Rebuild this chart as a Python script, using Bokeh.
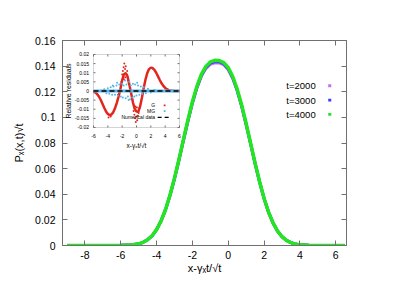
import math
from bokeh.plotting import figure
from bokeh.models import (Range1d, LinearAxis, FixedTicker, Label, BoxAnnotation,
                          ColumnDataSource, CustomLabelingPolicy)
from bokeh.core.properties import value
from bokeh.embed import file_html
from bokeh.resources import INLINE

FONT = "Liberation Sans"

# ---------------- main panel data ----------------
x_main = [-9.0, -8.5, -8.0, -7.5, -7.0, -6.5, -6.0, -5.5, -5.0, -4.75, -4.5, -4.25, -4.0,
          -3.75, -3.5, -3.25, -3.0, -2.75, -2.5, -2.25, -2.0, -1.75, -1.5, -1.25, -1.0,
          -0.75, -0.5, -0.25, 0.0, 0.25, 0.5, 0.75, 1.0, 1.25, 1.5, 1.75, 2.0, 2.25, 2.5,
          2.75, 3.0, 3.25, 3.5, 3.75, 4.0, 4.5, 5.0, 5.5, 6.0, 6.5]
p_t4000 = [0, 0, 0, 0, 0, 0, 0.0001, 0.0003, 0.0013, 0.0025, 0.0045, 0.0076, 0.0124,
           0.0192, 0.0281, 0.0394, 0.0526, 0.0673, 0.0829, 0.0981, 0.1122, 0.1242, 0.1335, 0.1398, 0.1433,
           0.1445, 0.1444, 0.1428, 0.1388, 0.1319, 0.1220, 0.1096, 0.0952, 0.0798, 0.0643, 0.0498, 0.0369, 0.0261, 0.0177,
           0.0113, 0.0069, 0.0040, 0.0022, 0.0011, 0.0005, 0.0001, 0, 0, 0, 0]
p_t3000 = [0, 0, 0, 0, 0, 0, 0.0001, 0.0003, 0.0013, 0.0025, 0.0045, 0.0076, 0.0124,
           0.0191, 0.0280, 0.0392, 0.0523, 0.0669, 0.0824, 0.0975, 0.1116, 0.1235, 0.1328, 0.1390, 0.1424,
           0.1436, 0.1435, 0.1419, 0.1380, 0.1311, 0.1213, 0.1090, 0.0947, 0.0794, 0.0640, 0.0496, 0.0368, 0.0260, 0.0176,
           0.0113, 0.0069, 0.0040, 0.0022, 0.0011, 0.0005, 0.0001, 0, 0, 0, 0]
p_t2000 = [0, 0, 0, 0, 0, 0, 0.0001, 0.0003, 0.0013, 0.0025, 0.0045, 0.0076, 0.0123,
           0.0190, 0.0278, 0.0390, 0.0520, 0.0665, 0.0819, 0.0969, 0.1110, 0.1228, 0.1320, 0.1381, 0.1414,
           0.1426, 0.1425, 0.1410, 0.1371, 0.1303, 0.1206, 0.1084, 0.0942, 0.0790, 0.0637, 0.0494, 0.0366, 0.0259, 0.0175,
           0.0112, 0.0068, 0.0040, 0.0022, 0.0011, 0.0005, 0.0001, 0, 0, 0, 0]
series_names = ["t=2000", "t=3000", "t=4000"]
series_colors = ["#c86cf4", "#3a3cff", "#22e622"]

x_ticks = [-8, -6, -4, -2, 0, 2, 4, 6]
x_tick_labels = ["-8", "-6", "-4", "-2", "0", "2", "4", "6"]
y_ticks = [0, 0.02, 0.04, 0.06, 0.08, 0.1, 0.12, 0.14, 0.16]
y_tick_labels = ["0", "0.02", "0.04", "0.06", "0.08", "0.1", "0.12", "0.14", "0.16"]

# ---------------- inset data ----------------
res_x = [-6.0, -5.75, -5.5, -5.25, -5.0, -4.75, -4.5, -4.25, -4.0, -3.75, -3.5, -3.25, -3.0,
         -2.75, -2.5, -2.25, -2.0, -1.75, -1.5, -1.25, -1.0, -0.75, -0.5, -0.25, 0.0,
         0.25, 0.5, 0.75, 1.0, 1.25, 1.5, 1.75, 2.0, 2.25, 2.5, 2.75, 3.0, 3.25, 3.5,
         3.75, 4.0, 4.25, 4.5, 4.75, 5.0, 5.25, 5.5, 5.75, 6.0]
res_G = [-0.0003, -0.0008, -0.0016, -0.0030, -0.0048, -0.0070, -0.0092, -0.0112, -0.0126, -0.0132, -0.0129, -0.0117, -0.0095,
         -0.0065, -0.0030, 0.0010, 0.0060, 0.0092, 0.0098, 0.0080, 0.0035, -0.0012, -0.0062, -0.0098, -0.0113,
         -0.0114, -0.0085, -0.0038, 0.0015, 0.0062, 0.0098, 0.0120, 0.0128, 0.0126, 0.0116, 0.0100, 0.0080, 0.0060, 0.0042,
         0.0028, 0.0017, 0.0010, 0.0005, 0.0002, 0.0001, 0, 0, 0, 0]
res_G_noise_x = [-2.1, -2.0, -1.9, -1.8, -1.75, -1.7, -1.6, -1.55, -1.5, -1.4, -1.3, -1.2,
                 -0.4, -0.3, -0.2, -0.15, -0.1, 0.0, 0.05, 0.1, 0.2, 0.3, 0.4, -3.9, -3.6, -2.6]
res_G_noise_y = [0.005, 0.009, 0.011, 0.013, 0.0065, 0.015, 0.012, 0.0075, 0.0135, 0.009, 0.011, 0.006,
                 -0.011, -0.013, -0.015, -0.0085, -0.017, -0.014, -0.009, -0.016, -0.0135, -0.012, -0.0095, -0.0145, -0.014, -0.002]
res_MG_x = [-4.5, -4.2, -4.0, -3.8, -3.6, -3.4, -3.3, -3.2, -3.0, -2.8, -2.7, -2.6, -2.4, -2.2, -2.0, -1.9,
            -1.8, -1.6, -1.5, -1.4, -1.2, -1.1, -1.0, -0.9, -0.8, -0.6, -0.5, -0.3, -0.2, 0.0, 0.1, 0.2,
            0.4, 0.6, 0.8, 1.0, 1.3, 1.6, 2.0, 2.5]
res_MG_y = [0.001, -0.0012, 0.0015, -0.0015, 0.002, -0.002, 0.003, 0.0025, -0.002, 0.003, 0.0045, -0.0025, 0.0035, -0.003, 0.004, -0.0035,
            0.003, 0.0058, -0.004, 0.0035, -0.003, -0.005, 0.005, -0.0045, 0.003, -0.0035, 0.004, -0.003, 0.0035, -0.0025, 0.0045, 0.003,
            -0.002, 0.0025, -0.0015, 0.002, -0.0012, 0.0012, -0.0008, 0.0006]
res_MG_band = [0.0] * len(res_x)
res_num = [0.0] * len(res_x)

ix_ticks = [-6, -4, -2, 0, 2, 4, 6]
ix_tick_labels = ["-6", "-4", "-2", "0", "2", "4", "6"]
iy_ticks = [-0.02, -0.015, -0.01, -0.005, 0, 0.005, 0.01, 0.015, 0.02]
iy_tick_labels = ["-0.02", "-0.015", "-0.01", "-0.005", "0", "0.005", "0.01", "0.015", "0.02"]

AX = "#707070"


def style_axis(ax, size, standoff, tick_in, labels=True):
    ax.major_tick_in = tick_in
    ax.major_tick_out = 0
    ax.minor_tick_in = 0
    ax.minor_tick_out = 0
    ax.axis_line_color = AX
    ax.major_tick_line_color = AX
    ax.major_label_text_font = FONT
    ax.major_label_text_color = "black"
    ax.major_label_text_font_size = size if labels else "1px"
    ax.major_label_standoff = standoff if labels else 0
    if not labels:
        ax.major_label_policy = CustomLabelingPolicy(code="return []")


# ---------------- main figure ----------------
p = figure(width=399, height=277, x_range=Range1d(-9.25, 6.6), y_range=Range1d(0, 0.16),
           output_backend="svg", toolbar_location=None,
           min_border_left=62, min_border_right=53, min_border_top=40, min_border_bottom=32)
p.xgrid.visible = False
p.ygrid.visible = False
p.outline_line_color = AX

xa = p.xaxis[0]
ya = p.yaxis[0]
xa.ticker = FixedTicker(ticks=x_ticks)
xa.major_label_overrides = dict(zip(x_ticks, x_tick_labels))
ya.ticker = FixedTicker(ticks=y_ticks)
ya.major_label_overrides = dict(zip(y_ticks, y_tick_labels))
style_axis(xa, "10.5px", 5, 5)
style_axis(ya, "10.5px", 7, 5)
xa.axis_label = "x-γₓt/√t"
ya.axis_label = "Pₓ(x,t)√t"
for a in (xa, ya):
    a.axis_label_text_font = FONT
    a.axis_label_text_font_style = "normal"
    a.axis_label_text_font_size = "11px"
    a.axis_label_text_color = "black"
xa.axis_label_standoff = 0
ya.axis_label_standoff = 7

top_ax = LinearAxis(ticker=FixedTicker(ticks=x_ticks))
style_axis(top_ax, "10px", 0, 5, labels=False)
p.add_layout(top_ax, "above")
right_ax = LinearAxis(ticker=FixedTicker(ticks=y_ticks))
style_axis(right_ax, "10px", 0, 5, labels=False)
p.add_layout(right_ax, "right")

for vals, col, w in ((p_t2000, series_colors[0], 3), (p_t3000, series_colors[1], 3), (p_t4000, series_colors[2], 3.5)):
    src = ColumnDataSource(dict(x=x_main, y=vals))
    p.line("x", "y", source=src, line_color=col, line_width=w)

leg_y = [0.1247, 0.1135, 0.1023]
for name, col, yy in zip(series_names, series_colors, leg_y):
    p.add_layout(Label(x=4.88, y=yy, text=name, text_align="right", text_baseline="middle",
                       text_font=FONT, text_font_size="9.5px", text_color="black"))
    p.add_layout(BoxAnnotation(left=5.58, right=5.75, bottom=yy - 0.0011, top=yy + 0.0011,
                               fill_color=col, fill_alpha=1, line_color=None))

# ---------------- inset, drawn on its own ranges inside the main frame ----------------
# ranges chosen so that the inset box (-6..6, -0.02..0.02) sits in the upper-left of the frame
p.extra_x_ranges = {"ix": Range1d(-10.3256, 29.302)}
p.extra_y_ranges = {"iy": Range1d(-0.084658, 0.027671)}
IX, IY = "ix", "iy"
TX = 0.279    # 2 px tick in inset x units
TY = 0.0011   # 2 px tick in inset y units

p.add_layout(BoxAnnotation(left=-6, right=6, bottom=-0.02, top=0.02, x_range_name=IX, y_range_name=IY,
                           fill_color="white", fill_alpha=1, line_color=AX, line_width=1, level="underlay"))
n_x = len(ix_ticks)
n_y = len(iy_ticks)
p.segment(x0=ix_ticks + ix_ticks, x1=ix_ticks + ix_ticks,
          y0=[-0.02] * n_x + [0.02] * n_x, y1=[-0.02 + TY] * n_x + [0.02 - TY] * n_x,
          line_color=AX, line_width=1, x_range_name=IX, y_range_name=IY)
p.segment(x0=[-6] * n_y + [6] * n_y, x1=[-6 + TX] * n_y + [6 - TX] * n_y,
          y0=iy_ticks + iy_ticks, y1=iy_ticks + iy_ticks,
          line_color=AX, line_width=1, x_range_name=IX, y_range_name=IY)
p.text(x=ix_ticks, y=[-0.0244] * n_x, text=ix_tick_labels, text_align="center", text_baseline="middle",
       text_font=value(FONT), text_font_size="5px", text_color="black", x_range_name=IX, y_range_name=IY)
p.text(x=[-6.63] * n_y, y=iy_ticks, text=iy_tick_labels, text_align="right", text_baseline="middle",
       text_font=value(FONT), text_font_size="5px", text_color="black", x_range_name=IX, y_range_name=IY)
p.add_layout(Label(x=0, y=-0.0296, text="x-γₓt/√t", text_align="center", text_baseline="middle",
                   text_font=FONT, text_font_size="6.5px", text_color="black", x_range_name=IX, y_range_name=IY))
p.add_layout(Label(x=-9.45, y=0.0, text="Relative residuals", angle=math.pi / 2, text_align="center",
                   text_baseline="middle", text_font=FONT, text_font_size="7px", text_color="black",
                   x_range_name=IX, y_range_name=IY))

RED = "#e3261d"
BLUE = "#5ab4e8"
p.line(res_x, res_G, line_color=RED, line_width=2.5, x_range_name=IX, y_range_name=IY)
p.scatter(res_G_noise_x, res_G_noise_y, size=2, color=RED, line_color=None, x_range_name=IX, y_range_name=IY)
p.line(res_x, res_MG_band, line_color=BLUE, line_width=3, x_range_name=IX, y_range_name=IY)
p.scatter(res_MG_x, res_MG_y, size=2, color=BLUE, line_color=None, x_range_name=IX, y_range_name=IY)
p.line(res_x, res_num, line_color="black", line_width=1.3, line_dash="5 3", x_range_name=IX, y_range_name=IY)

ileg = [("G", -0.0079), ("MG", -0.0110), ("Numerical data", -0.0145)]
for name, yy in ileg:
    p.add_layout(Label(x=2.6, y=yy, text=name, text_align="right", text_baseline="middle",
                       text_font=FONT, text_font_size="5px", text_color="black",
                       x_range_name=IX, y_range_name=IY))
p.add_layout(BoxAnnotation(left=3.8, right=4.05, bottom=-0.0079 - 0.0005, top=-0.0079 + 0.0005,
                           fill_color=RED, fill_alpha=1, line_color=None, x_range_name=IX, y_range_name=IY))
p.add_layout(BoxAnnotation(left=3.8, right=4.05, bottom=-0.0110 - 0.0005, top=-0.0110 + 0.0005,
                           fill_color=BLUE, fill_alpha=1, line_color=None, x_range_name=IX, y_range_name=IY))
p.segment(x0=[2.95], x1=[4.6], y0=[-0.0145], y1=[-0.0145], line_color="black", line_width=1.2,
          line_dash="4 3", x_range_name=IX, y_range_name=IY)

open("out.html", "w").write(file_html(p, INLINE))
